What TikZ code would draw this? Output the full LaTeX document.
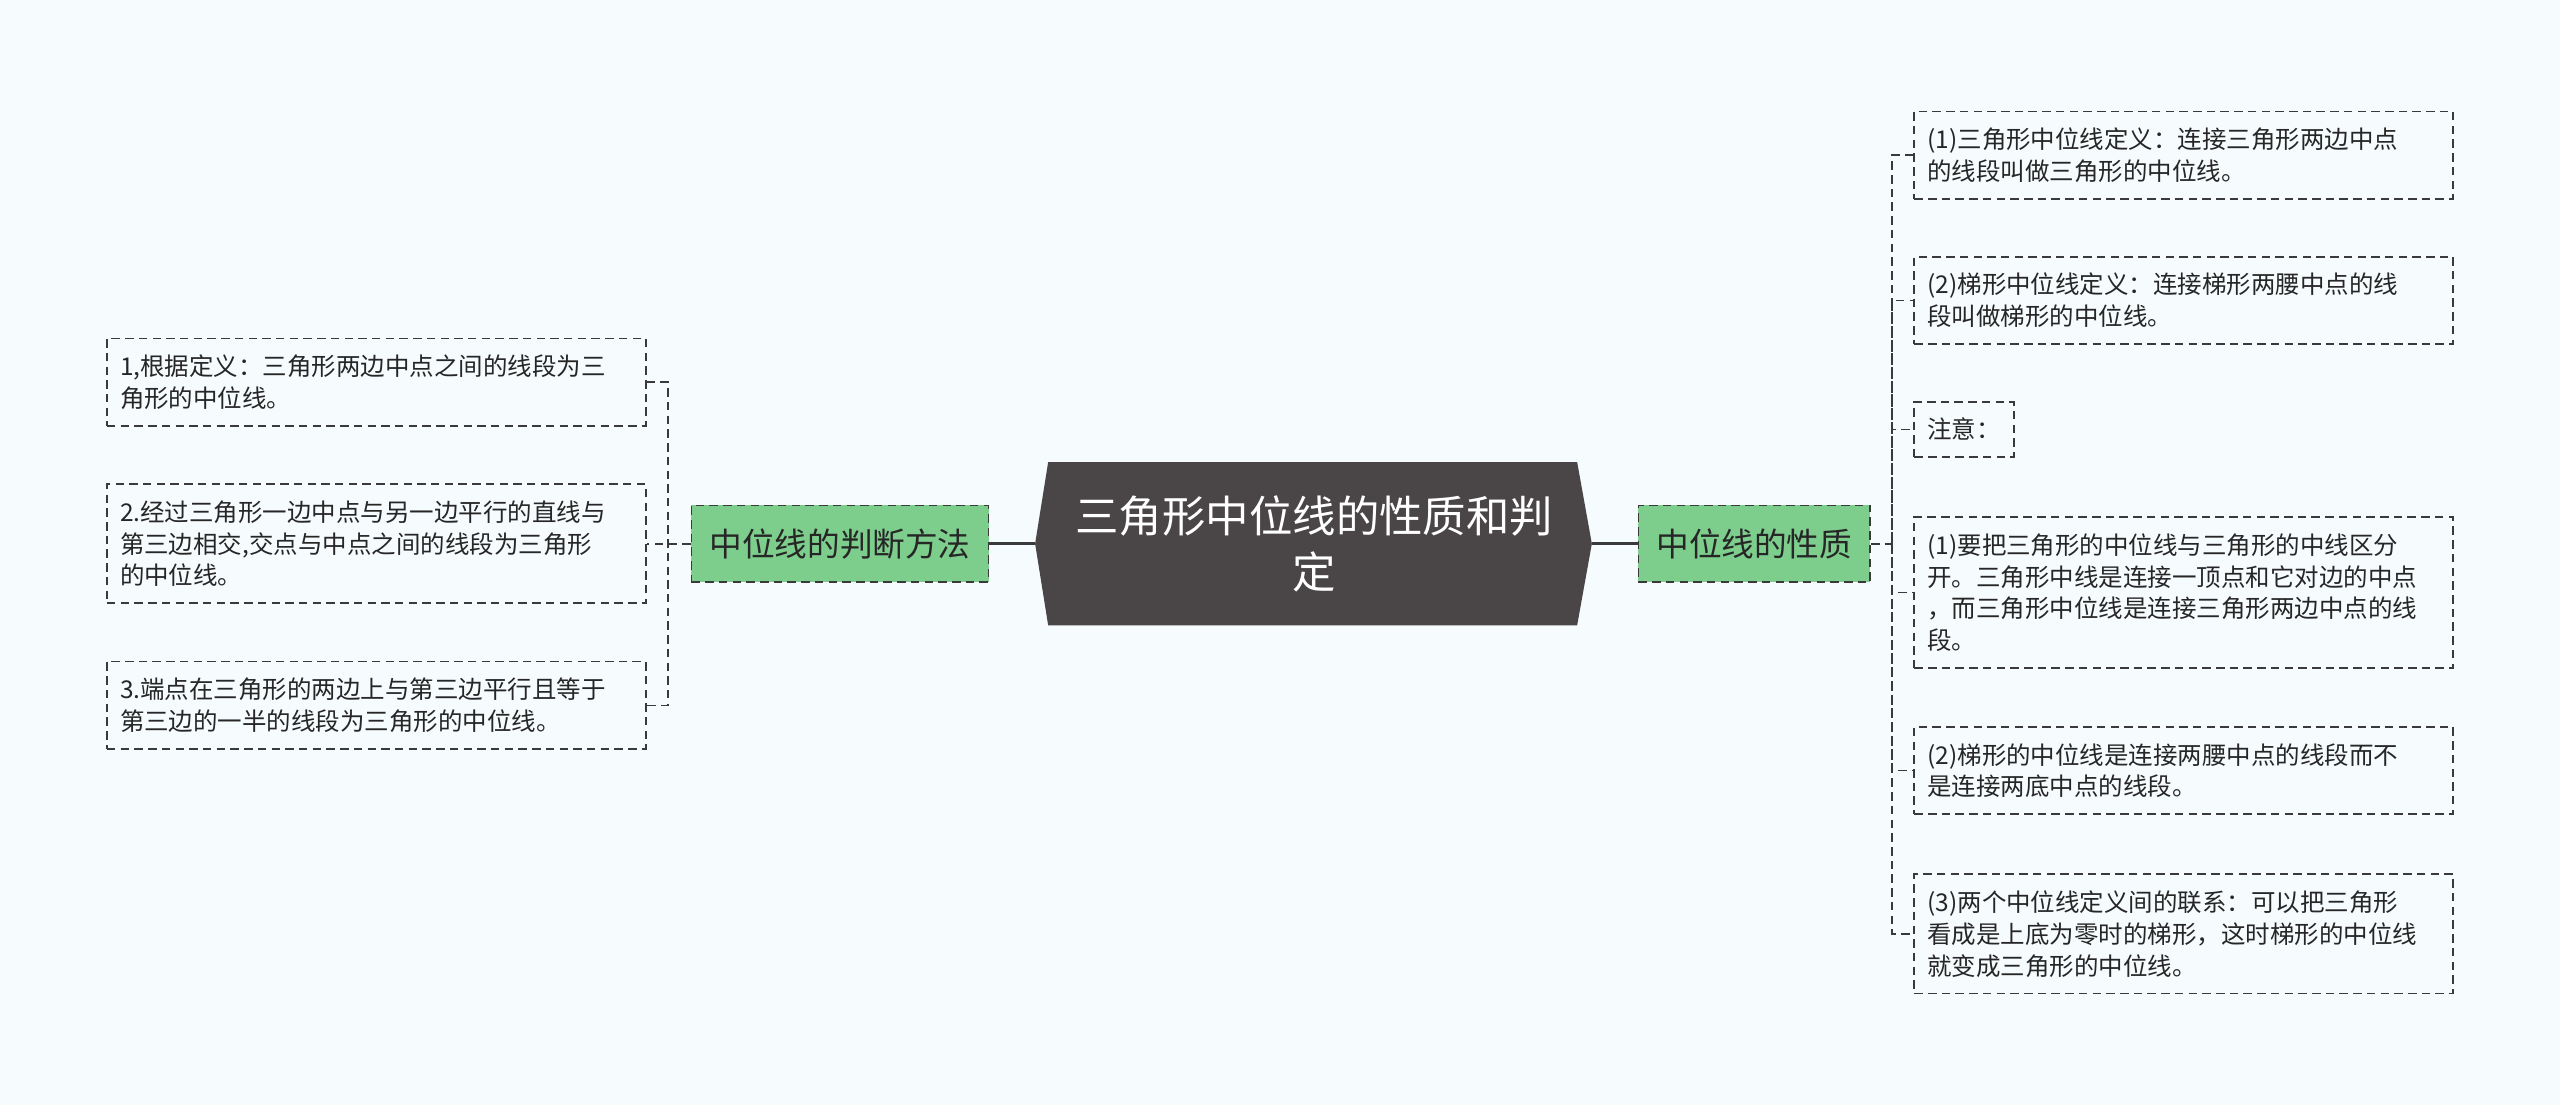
\documentclass[tikz,border=0pt]{standalone}
\usepackage{fontspec}
\setmainfont{Noto Sans CJK SC}
\definecolor{bgcol}{HTML}{F6FBFD}
\definecolor{rootcol}{HTML}{4A4546}
\definecolor{subcol}{HTML}{7DCD8D}
\definecolor{linecol}{HTML}{3A3A3A}
\begin{document}
\begin{tikzpicture}[x=0.5pt,y=-0.5pt,
	dashline/.style={draw=linecol,line width=0.5pt,dash pattern=on 2.6pt off 1.6pt},
	leaf/.style={dashline,inner xsep=4pt,inner ysep=5pt,align=left,text=black!85,
		font=\fontsize{7.5pt}{9.75pt}\selectfont},
	wideleaf/.style={leaf,text width=157pt},
	sub/.style={dashline,fill=subcol,minimum height=23.5pt,inner xsep=5.5pt,text=black!85,
		font=\fontsize{10pt}{12pt}\selectfont},
	trunk/.style={draw=linecol,line width=0.9pt}]
	\fill[bgcol] (0,0) rectangle (1568,677);
	\useasboundingbox (0,0) rectangle (1568,677);
	\coordinate (T1) at (642,283); \coordinate (T2) at (966,283); \coordinate (E) at (975,333);
	\coordinate (B2) at (966,383); \coordinate (B1) at (642,383); \coordinate (W) at (634,333);
	\fill[rootcol] (T1)--(T2)--(E)--(B2)--(B1)--(W)--cycle;
	\node[text=white,align=center,font=\fontsize{13.3pt}{17pt}\selectfont] (root) at (805,333) {三角形中位线的性质和判\\定};
	\node[sub,anchor=east] (judge) at (606,333) {中位线的判断方法};
	\node[sub,anchor=west] (prop) at (1003,333) {中位线的性质};
	\draw[trunk] (W) -- (judge.east) (E) -- (prop.west);
	\node[wideleaf,anchor=east] (j1) at (396,234) {1,根据定义：三角形两边中点之间的线段为三\\角形的中位线。};
	\node[wideleaf,anchor=east] (j2) at (396,333) {2.经过三角形一边中点与另一边平行的直线与\\第三边相交,交点与中点之间的线段为三角形\\的中位线。};
	\node[wideleaf,anchor=east] (j3) at (396,432) {3.端点在三角形的两边上与第三边平行且等于\\第三边的一半的线段为三角形的中位线。};
	\coordinate (lj) at (409,333);
	\draw[dashline] (judge.west) -- (j2.east) (j1.east) -| (lj) |- (j3.east);
	\node[wideleaf,anchor=west] (p1) at (1172,95) {(1)三角形中位线定义：连接三角形两边中点\\的线段叫做三角形的中位线。};
	\node[wideleaf,anchor=west] (p2) at (1172,184) {(2)梯形中位线定义：连接梯形两腰中点的线\\段叫做梯形的中位线。};
	\node[leaf,anchor=west] (p3) at (1172,263) {注意：};
	\node[wideleaf,anchor=west] (p4) at (1172,363) {(1)要把三角形的中位线与三角形的中线区分\\开。三角形中线是连接一顶点和它对边的中点\\，而三角形中位线是连接三角形两边中点的线\\段。};
	\node[wideleaf,anchor=west] (p5) at (1172,472) {(2)梯形的中位线是连接两腰中点的线段而不\\是连接两底中点的线段。};
	\node[wideleaf,anchor=west] (p6) at (1172,572) {(3)两个中位线定义间的联系：可以把三角形\\看成是上底为零时的梯形，这时梯形的中位线\\就变成三角形的中位线。};
	\coordinate (rj) at (1159,333);
	\draw[dashline] (prop.east) -- (rj) (p1.west) -| (rj) |- (p6.west);
	\foreach \n in {2,...,5} \draw[dashline] (rj) |- (p\n.west);
\end{tikzpicture}
\end{document}
